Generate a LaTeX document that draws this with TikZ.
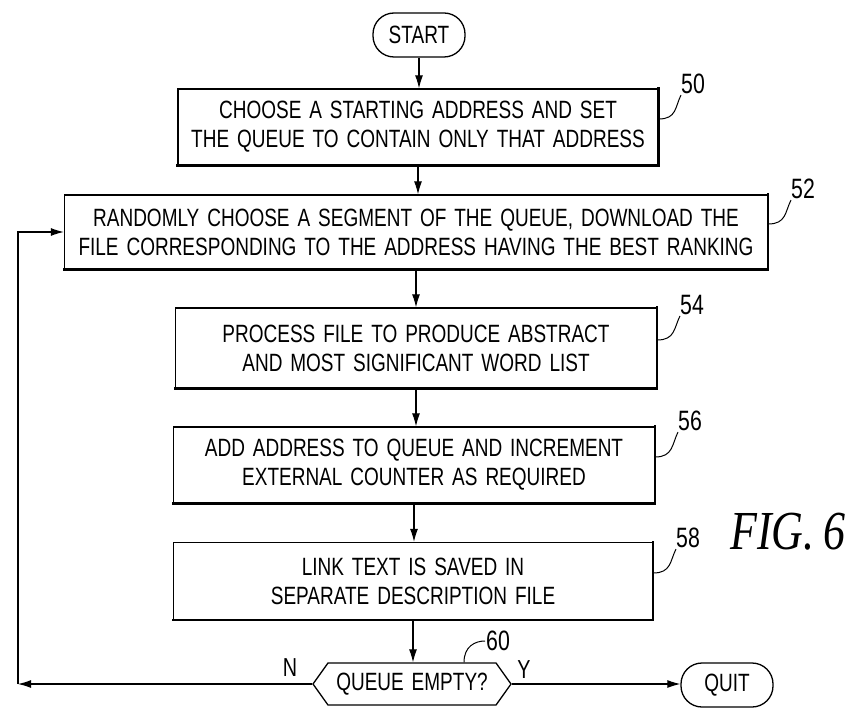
\documentclass[tikz,border=0pt]{standalone}
\usepackage{fontspec}
\usetikzlibrary{shapes.symbols,arrows.meta}
\newfontfamily\boxfont[FakeStretch=0.76,WordSpace=1.5]{Liberation Sans}
\newfontfamily\figfont[FakeStretch=0.8]{Liberation Serif}

\begin{document}
\begin{tikzpicture}[x=1pt,y=-1pt,
  txt/.style={font=\boxfont\fontsize{25}{29}\selectfont, align=center, inner sep=0pt},
  stepbox/.style={txt, draw, line width=1.3pt, rectangle},
  heavy/.style={line width=2.6pt, line cap=rect},
  term/.style={txt, draw, line width=1.3pt, rectangle, rounded corners=21pt,
    minimum width=92pt, minimum height=44pt},
  decide/.style={txt, draw, line width=1.3pt, signal, signal to=west and east,
    signal pointer angle=109, minimum width=198pt, minimum height=42pt},
  conn/.style={line width=1.1pt, -{Latex[length=13pt,width=8pt]}},
  lbl/.style={font=\boxfont\fontsize{28}{28}\selectfont, inner sep=1pt},
  leader/.style={line width=1pt}]

\useasboundingbox (0,0) rectangle (850,708);

% process steps
\node[term] (start) at (419,35) {START};
\node[stepbox, minimum width=480pt, minimum height=76pt] (b50) at (418,127)
  {CHOOSE A STARTING ADDRESS AND SET\\THE QUEUE TO CONTAIN ONLY THAT ADDRESS};
\node[stepbox, minimum width=703pt, minimum height=74pt] (b52) at (416,232)
  {RANDOMLY CHOOSE A SEGMENT OF THE QUEUE, DOWNLOAD THE\\FILE CORRESPONDING TO THE ADDRESS HAVING THE BEST RANKING};
\node[stepbox, minimum width=481pt, minimum height=80pt] (b54) at (416,348)
  {PROCESS FILE TO PRODUCE ABSTRACT\\AND MOST SIGNIFICANT WORD LIST};
\node[stepbox, minimum width=481pt, minimum height=76pt] (b56) at (414,465)
  {ADD ADDRESS TO QUEUE AND INCREMENT\\EXTERNAL COUNTER AS REQUIRED};
\node[stepbox, minimum width=479pt, minimum height=77pt] (b58) at (413,581)
  {LINK TEXT IS SAVED IN\\SEPARATE DESCRIPTION FILE};
\node[decide] (hex) at (412,684) {QUEUE EMPTY?};
\node[term] (quit) at (727,685) {QUIT};

% heavier lower and right edges of the boxes
\foreach \b in {b50,b52,b54,b56,b58}
  \draw[heavy] (\b.south west) -- (\b.south east) -- (\b.north east);

% reference numerals
\node[lbl] (l50) at (693,84) {50};
\node[lbl] (l52) at (803,189) {52};
\node[lbl] (l54) at (692,305) {54};
\node[lbl] (l56) at (690,421) {56};
\node[lbl] (l58) at (688,538) {58};
\node[lbl, anchor=west] (l60) at (485,641) {60};

\foreach \b/\l in {b50/l50,b52/l52,b54/l54,b56/l56,b58/l58}
  \draw[leader] ([yshift=8pt]\b.east) .. controls +(18,0) and +(-6,12) .. ([xshift=1pt]\l.south west);
\coordinate (h60) at ([xshift=52pt]hex.north);
\draw[leader] (h60) .. controls +(0,-16) and +(-10,0) .. (l60.west);

% flow
\draw[conn] (start) -- (start.south |- b50.north);
\draw[conn] (b50.south) -- (b50.south |- b52.north);
\draw[conn] (b52.south) -- (b52.south |- b54.north);
\draw[conn] (b54.south) -- (b54.south |- b56.north);
\draw[conn] (b56.south) -- (b56.south |- b58.north);
\draw[conn] (b58.south) -- (b58.south |- hex.north);
\draw[conn] (hex.east) -- (hex.east -| quit.west);
\coordinate (back) at (18,684);
\draw[conn] (hex.west) -- (back);
\draw[conn] (back) |- (b52.west);

\node[txt, font=\boxfont\fontsize{26}{26}\selectfont] (n) at (290,668) {N};
\node[txt, font=\boxfont\fontsize{26}{26}\selectfont] (y) at (524,670) {Y};

\node[font=\figfont\itshape\fontsize{55}{55}\selectfont] (fig) at (788,532) {FIG.\,6};
\end{tikzpicture}
\end{document}
